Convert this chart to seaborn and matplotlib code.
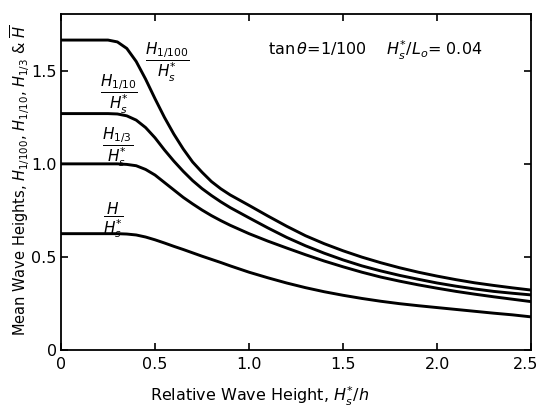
import numpy as np
import pandas as pd
import matplotlib
matplotlib.use("Agg")
import matplotlib.pyplot as plt
import matplotlib.transforms as mtransforms
import seaborn as sns

# ---- data ----
x_grid = [0, 0.25, 0.3, 0.35, 0.4, 0.45, 0.5, 0.55, 0.6, 0.65, 0.7, 0.75, 0.8, 0.85, 0.9, 1.0,
          1.1, 1.2, 1.3, 1.4, 1.5, 1.6, 1.7, 1.8, 1.9, 2.0, 2.1, 2.2, 2.3, 2.4, 2.5]

y_h100 = [1.665, 1.665, 1.655, 1.62, 1.55, 1.455, 1.35, 1.25, 1.16, 1.08, 1.01, 0.955, 0.905, 0.866, 0.833, 0.777,
          0.72, 0.665, 0.614, 0.571, 0.533, 0.499, 0.469, 0.442, 0.418, 0.397, 0.378, 0.361, 0.347, 0.334, 0.322]

y_h10 = [1.27, 1.27, 1.268, 1.258, 1.235, 1.195, 1.14, 1.075, 1.015, 0.96, 0.91, 0.867, 0.83, 0.796, 0.765, 0.71,
         0.656, 0.605, 0.56, 0.52, 0.484, 0.452, 0.425, 0.401, 0.38, 0.36, 0.343, 0.328, 0.315, 0.305, 0.296]

y_h3 = [1.0, 1.0, 1.0, 0.997, 0.99, 0.97, 0.94, 0.9, 0.86, 0.82, 0.785, 0.752, 0.722, 0.695, 0.67, 0.625,
        0.585, 0.548, 0.512, 0.478, 0.447, 0.418, 0.392, 0.37, 0.35, 0.332, 0.315, 0.3, 0.286, 0.273, 0.26]

y_hm = [0.625, 0.625, 0.625, 0.623, 0.618, 0.607, 0.592, 0.575, 0.557, 0.54, 0.522, 0.504, 0.487, 0.47, 0.452, 0.418,
        0.388, 0.36, 0.335, 0.313, 0.294, 0.277, 0.262, 0.249, 0.238, 0.228, 0.218, 0.208, 0.198, 0.189, 0.178]

series_names = ["H1/100", "H1/10", "H1/3", "H"]
xticks = [0, 0.5, 1.0, 1.5, 2.0, 2.5]
xtick_labels = ["0", "0.5", "1.0", "1.5", "2.0", "2.5"]
yticks = [0, 0.5, 1.0, 1.5]
ytick_labels = ["0", "0.5", "1.0", "1.5"]

frames = []
for name, ys in zip(series_names, [y_h100, y_h10, y_h3, y_hm]):
    frames.append(pd.DataFrame({"x": x_grid, "y": ys, "series": name}))
df = pd.concat(frames, ignore_index=True)

sns.set_style("ticks")
plt.rcParams["font.family"] = ["DejaVu Sans"]
plt.rcParams["mathtext.fontset"] = "dejavusans"
plt.rcParams["text.color"] = "black"
plt.rcParams["axes.labelcolor"] = "black"

fig = plt.figure(figsize=(5.42, 4.07), dpi=100)
ax = fig.add_axes([0.1125, 0.14, 0.8675, 0.8256])

sns.lineplot(data=df, x="x", y="y", hue="series", palette=["black"] * 4,
             linewidth=2.1, legend=False, sort=False, ax=ax, estimator=None)

ax.set_xlim(0, 2.5)
ax.set_ylim(0, 1.805)
ax.set_xticks(xticks)
ax.set_xticklabels(xtick_labels, fontsize=11.5)
ax.set_yticks(yticks)
ax.set_yticklabels(ytick_labels, fontsize=11.5)
ax.tick_params(direction="in", length=5, width=1.2, top=True, right=True, colors="black")
ax.tick_params(axis="x", pad=5)
ax.tick_params(axis="y", pad=3)
for s in ax.spines.values():
    s.set_linewidth(1.3)
    s.set_color("black")

# nudge the last x tick label so it stays inside the figure
last = ax.get_xticklabels()[-1]
last.set_transform(last.get_transform() + mtransforms.ScaledTranslation(-6 / 100, 0, fig.dpi_scale_trans))

ax.set_xlabel("")
ax.set_ylabel("")
fig.text(260 / 542, 1 - 396 / 407, r"Relative Wave Height, $H_s^{*}/h$", fontsize=11.5,
         ha="center", va="center")
fig.text(20 / 542, 1 - 180 / 407,
         r"Mean Wave Heights, $H_{1/100}$, $H_{1/10}$, $H_{1/3}$ & $\overline{H}$",
         fontsize=10.5, ha="center", va="center", rotation=90)

ax.text(0.568, 1.545, r"$\dfrac{H_{1/100}}{H_s^{*}}$", fontsize=11, ha="center", va="center")
ax.text(0.31, 1.375, r"$\dfrac{H_{1/10}}{H_s^{*}}$", fontsize=11, ha="center", va="center")
ax.text(0.30, 1.09, r"$\dfrac{H_{1/3}}{H_s^{*}}$", fontsize=11, ha="center", va="center")
ax.text(0.28, 0.70, r"$\dfrac{H}{H_s^{*}}$", fontsize=11, ha="center", va="center")
ax.text(1.67, 1.61, r"tan$\,\theta$=1/100    $H_s^{*}/L_o$= 0.04", fontsize=11.5,
        ha="center", va="center")

fig.savefig("out.png", dpi=100)
